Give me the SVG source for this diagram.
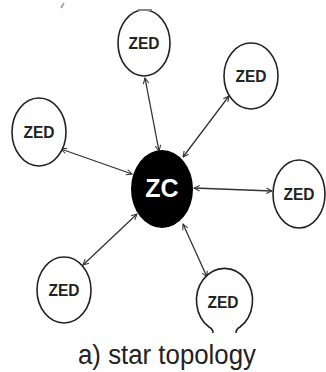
<svg xmlns="http://www.w3.org/2000/svg" width="326" height="372" viewBox="0 0 326 372">
<style>
.zed{fill:#fff;stroke:#222;stroke-width:1.6}
.lbl{font-family:"Liberation Sans",Arial,sans-serif;font-weight:bold;font-size:16px;fill:#222;text-anchor:middle}
.con{stroke:#333;stroke-width:1.3;fill:none;marker-start:url(#ah);marker-end:url(#ah)}
</style>
<defs>
<marker id="ah" viewBox="0 0 10 10" refX="9" refY="5" markerWidth="7" markerHeight="7" orient="auto-start-reverse" markerUnits="userSpaceOnUse">
<path d="M1,1 L9,5 L1,9" fill="none" stroke="#333" stroke-width="1.5"/>
</marker>
</defs>
<rect width="326" height="372" fill="#fff"/>
<path d="M61,8 L64,3" stroke="#999" stroke-width="1.5"/>
<g id="connectors">
<line class="con" x1="159" y1="151" x2="145" y2="78"/>
<line class="con" x1="183" y1="157" x2="229" y2="96"/>
<line class="con" x1="132" y1="174" x2="61" y2="149"/>
<line class="con" x1="194" y1="188" x2="272" y2="191"/>
<line class="con" x1="137" y1="214" x2="83" y2="265"/>
<line class="con" x1="183" y1="224" x2="207" y2="277"/>
</g>
<g id="zc">
<ellipse cx="162" cy="189" rx="31" ry="39" fill="#000"/>
<text x="162" y="197" font-family="'Liberation Sans',Arial,sans-serif" font-weight="bold" font-size="25" fill="#fff" text-anchor="middle">ZC</text>
</g>
<g id="zed-top">
<ellipse class="zed" cx="144" cy="43" rx="26" ry="33"/>
<path d="M138,10 L152,10" stroke="#888" stroke-width="2"/>
<text class="lbl" x="144" y="49" textLength="31" lengthAdjust="spacingAndGlyphs">ZED</text>
</g>
<g id="zed-upper-right">
<ellipse class="zed" cx="251" cy="76" rx="27" ry="33"/>
<text class="lbl" x="251" y="82" textLength="31" lengthAdjust="spacingAndGlyphs">ZED</text>
</g>
<g id="zed-left">
<ellipse class="zed" cx="39" cy="132" rx="27" ry="34"/>
<text class="lbl" x="39" y="138" textLength="31" lengthAdjust="spacingAndGlyphs">ZED</text>
</g>
<g id="zed-right">
<ellipse class="zed" cx="299" cy="194" rx="26" ry="34"/>
<text class="lbl" x="299" y="200" textLength="31" lengthAdjust="spacingAndGlyphs">ZED</text>
</g>
<g id="zed-lower-left">
<ellipse class="zed" cx="64" cy="290" rx="27" ry="33"/>
<text class="lbl" x="64" y="296" textLength="31" lengthAdjust="spacingAndGlyphs">ZED</text>
</g>
<g id="zed-lower-right">
<path class="zed" d="M213,333 Q213,329 209,327 A28,32 0 1 1 240,327 Q236,329 236,333" fill="#fff"/>
<text class="lbl" x="223" y="308" textLength="31" lengthAdjust="spacingAndGlyphs">ZED</text>
</g>
<text x="167" y="364" font-family="'Liberation Sans',Arial,sans-serif" font-size="27" fill="#222" text-anchor="middle" textLength="178" lengthAdjust="spacingAndGlyphs">a) star topology</text>
</svg>
